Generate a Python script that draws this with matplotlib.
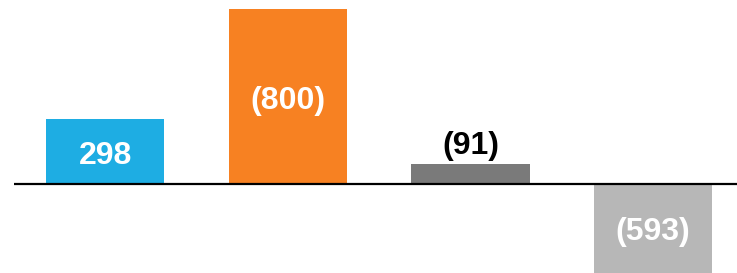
import matplotlib
matplotlib.use("Agg")
import matplotlib.pyplot as plt

categories = ["A", "B", "C", "D"]
heights = [298, 800, 91, -593]           # bar direction as drawn
labels = ["298", "(800)", "(91)", "(593)"]
colors = ["#1EADE3", "#F78122", "#7A7A7A", "#B7B7B7"]
text_colors = ["white", "white", "black", "white"]

plt.rcParams["font.family"] = ["Liberation Sans", "DejaVu Sans"]

fig = plt.figure(figsize=(7.37, 2.73), dpi=100)
ax = fig.add_axes([14 / 737, 0, 1 - 14 / 737, 1])

x = range(len(categories))
ax.bar(x, heights, width=0.647, color=colors, zorder=2)
ax.axhline(0, color="black", lw=1.6, zorder=3)

ylo, yhi = -406, 840
ax.set_xlim(-0.5, 3.46)
ax.set_ylim(ylo, yhi)

for i, (h, lab, tc) in enumerate(zip(heights, labels, text_colors)):
    if h < 0:
        y = max(h, ylo) / 2 - 18
        va = "center"
    elif h < 150:
        y = h + 14
        va = "bottom"
    else:
        y = h / 2 - 20
        va = "center"
    ax.text(i, y, lab, ha="center", va=va, color=tc,
            fontsize=23, fontweight="bold", zorder=4)

ax.axis("off")
fig.savefig("out.png", dpi=100)
